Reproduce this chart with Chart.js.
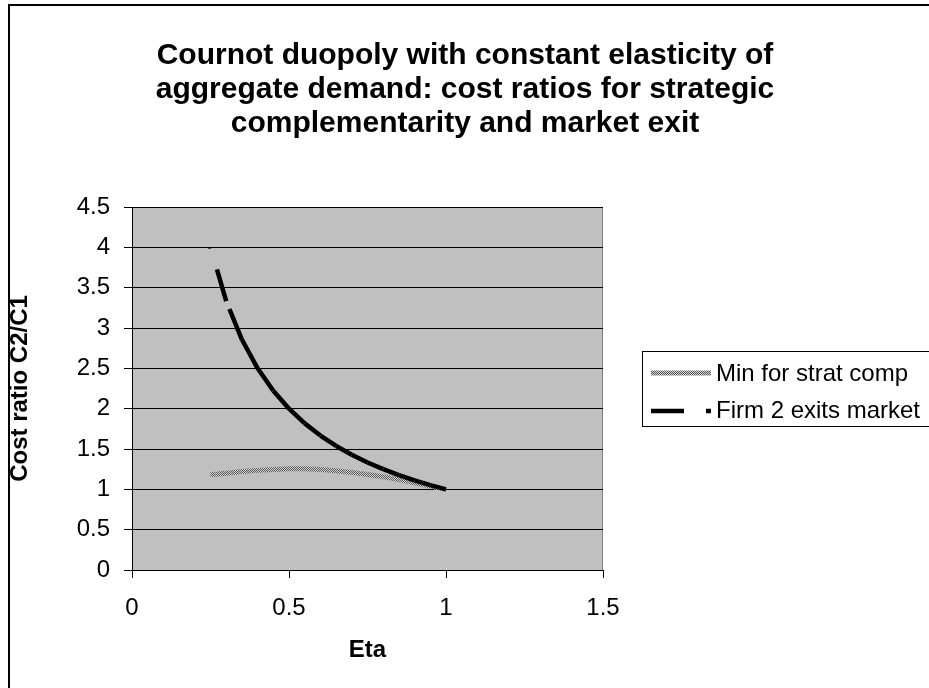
<!DOCTYPE html>
<html><head><meta charset="utf-8">
<script src="https://cdn.jsdelivr.net/npm/chart.js@4.4.1/dist/chart.umd.min.js"></script>
<style>html,body{margin:0;padding:0;background:#fff;overflow:hidden}#wrap{position:relative;width:929px;height:688px}</style>
</head><body><div id="wrap"><canvas id="c" width="929" height="688"></canvas></div>
<script>
const titleLines = ['Cournot duopoly with constant elasticity of', 'aggregate demand: cost ratios for strategic', 'complementarity and market exit'];
const xTitle = 'Eta';
const yTitle = 'Cost ratio C2/C1';
const seriesNames = ['Min for strat comp', 'Firm 2 exits market'];
const eta = [0.25, 0.30, 0.35, 0.40, 0.45, 0.50, 0.55, 0.60, 0.65, 0.70, 0.75, 0.80, 0.85, 0.90, 0.95, 1.00];
const minStratComp = [1.18, 1.20, 1.22, 1.235, 1.245, 1.255, 1.255, 1.245, 1.23, 1.21, 1.185, 1.155, 1.12, 1.08, 1.04, 1.00];
const firm2Exit = [4.000, 3.333, 2.857, 2.500, 2.222, 2.000, 1.818, 1.667, 1.538, 1.429, 1.333, 1.250, 1.176, 1.111, 1.053, 1.000];
const xTicks = [0, 0.5, 1, 1.5];
const yTicks = [0, 0.5, 1, 1.5, 2, 2.5, 3, 3.5, 4, 4.5];

const FONT = '"Liberation Sans", Arial, Helvetica, sans-serif';
const canvas = document.getElementById('c');
const ctx0 = canvas.getContext('2d');

// speckled gray pattern for the "Min for strat comp" line
const pc = document.createElement('canvas'); pc.width = 2; pc.height = 2;
const pg = pc.getContext('2d');
pg.fillStyle = '#d2d2d2'; pg.fillRect(0, 0, 2, 2);
pg.fillStyle = '#585858'; pg.fillRect(0, 0, 1, 1); pg.fillRect(1, 1, 1, 1);
const grayPattern = ctx0.createPattern(pc, 'repeat');

const stratData = eta.map((x, i) => ({x: x, y: minStratComp[i]}));
const firmData = eta.map((x, i) => ({x: x, y: firm2Exit[i]})).reverse();
const firmDash = [33, 22];

const decor = {
  id: 'decor',
  beforeDraw(chart) {
    const {ctx, chartArea: a} = chart;
    ctx.save();
    ctx.fillStyle = '#ffffff';
    ctx.fillRect(0, 0, chart.width, chart.height);
    ctx.fillStyle = '#c0c0c0';
    ctx.fillRect(a.left, a.top, a.right - a.left, a.bottom - a.top);
    ctx.strokeStyle = '#808080'; ctx.lineWidth = 1;
    ctx.strokeRect(a.left + 0.5, a.top + 0.5, a.right - a.left - 1, a.bottom - a.top);
    // outer chart frame
    ctx.strokeStyle = '#000'; ctx.lineWidth = 2;
    ctx.strokeRect(9, 5, 1000, 1000);
    // title
    ctx.fillStyle = '#000';
    ctx.font = 'bold 30px ' + FONT;
    ctx.textAlign = 'center'; ctx.textBaseline = 'alphabetic';
    titleLines.forEach((t, i) => ctx.fillText(t, 465, 64 + i * 34));
    ctx.restore();
  },
  afterDraw(chart) {
    const {ctx} = chart;
    ctx.save();
    // legend box
    ctx.fillStyle = '#fff';
    ctx.fillRect(643, 352, 400, 75);
    ctx.strokeStyle = '#000'; ctx.lineWidth = 1;
    ctx.strokeRect(642.5, 351.5, 400, 75);
    const rows = [373, 411];
    const baselines = [381, 418];
    chart.data.datasets.forEach((ds, i) => {
      ctx.beginPath();
      ctx.lineWidth = ds.borderWidth;
      ctx.strokeStyle = ds.borderColor;
      ctx.lineCap = 'butt';
      ctx.setLineDash(ds.borderDash || []);
      ctx.moveTo(651, rows[i]); ctx.lineTo(711, rows[i]);
      ctx.stroke();
      ctx.setLineDash([]);
      ctx.fillStyle = '#000';
      ctx.font = '24px ' + FONT;
      ctx.textAlign = 'left'; ctx.textBaseline = 'alphabetic';
      ctx.fillText(ds.label, 716, baselines[i]);
    });
    ctx.restore();
  }
};

new Chart(canvas, {
  type: 'scatter',
  data: {
    datasets: [
      {label: seriesNames[0], data: stratData, showLine: true, borderColor: grayPattern, borderWidth: 5,
       pointRadius: 0, tension: 0, order: 1, borderCapStyle: 'butt'},
      {label: seriesNames[1], data: firmData, showLine: true, borderColor: '#000', borderWidth: 4.5,
       borderDash: firmDash, pointRadius: 0, tension: 0, order: 0, borderCapStyle: 'butt',
       segment: {borderDashOffset: c => (c.p0DataIndex % 2 ? 0 : 0.0001)}}
    ]
  },
  options: {
    responsive: false, animation: false, devicePixelRatio: 1,
    layout: {padding: {top: 207, right: 326, bottom: 0, left: 0}},
    plugins: {legend: {display: false}, tooltip: {enabled: false}, title: {display: false}},
    scales: {
      x: {
        type: 'linear', min: 0, max: 1.5,
        afterBuildTicks: s => { s.ticks = xTicks.map(v => ({value: v})); },
        afterFit: s => { s.height = 118; },
        grid: {drawOnChartArea: false, drawTicks: true, tickLength: 8, color: '#000', lineWidth: 1},
        border: {display: true, color: '#000', width: 1},
        ticks: {color: '#000', font: {family: FONT, size: 24}, padding: 16, maxRotation: 0, callback: v => String(v)},
        title: {display: true, text: xTitle, color: '#000', font: {family: FONT, size: 24, weight: 'bold'}, padding: {top: 0, bottom: 23}}
      },
      y: {
        type: 'linear', min: 0, max: 4.5,
        afterBuildTicks: s => { s.ticks = yTicks.map(v => ({value: v})); },
        afterFit: s => { s.width = 132; },
        grid: {drawOnChartArea: true, drawTicks: true, tickLength: 8, color: '#000', lineWidth: 1},
        border: {display: true, color: '#000', width: 1},
        ticks: {color: '#000', font: {family: FONT, size: 24}, padding: 14, callback: v => String(v)},
        title: {display: true, text: yTitle, color: '#000', font: {family: FONT, size: 24, weight: 'bold'}, padding: {top: 6, bottom: 0}}
      }
    }
  },
  plugins: [decor]
});
</script>
</body></html>
